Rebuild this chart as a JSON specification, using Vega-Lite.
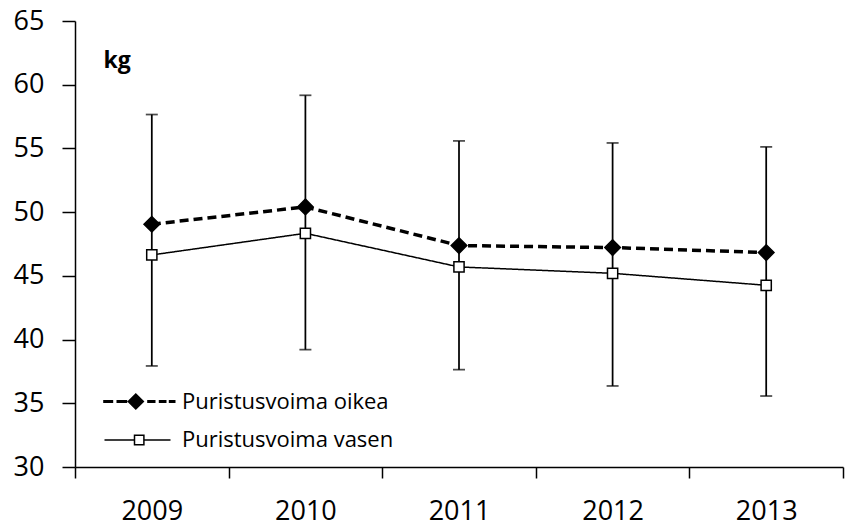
{
  "$schema": "https://vega.github.io/schema/vega-lite/v6.json",
  "width": 768,
  "height": 446,
  "autosize": {"type": "none"},
  "padding": {"left": 75, "top": 21, "right": 2, "bottom": 62},
  "config": {
    "view": {"stroke": null},
    "font": "Open Sans",
    "axis": {"grid": false, "domainColor": "black", "domainWidth": 1.5, "tickColor": "black", "tickWidth": 1.5, "labelColor": "black", "labelFont": "Open Sans"},
    "legend": {"labelFont": "Open Sans"}
  },
  "resolve": {
    "scale": {"shape": "independent", "fill": "independent", "strokeWidth": "independent"},
    "legend": {"shape": "independent", "fill": "independent", "strokeWidth": "independent"}
  },
  "datasets": {
    "means": [
      {"year": "2009", "series": "Puristusvoima oikea", "value": 49.05},
      {"year": "2010", "series": "Puristusvoima oikea", "value": 50.41},
      {"year": "2011", "series": "Puristusvoima oikea", "value": 47.38},
      {"year": "2012", "series": "Puristusvoima oikea", "value": 47.22},
      {"year": "2013", "series": "Puristusvoima oikea", "value": 46.83},
      {"year": "2009", "series": "Puristusvoima vasen", "value": 46.64},
      {"year": "2010", "series": "Puristusvoima vasen", "value": 48.34},
      {"year": "2011", "series": "Puristusvoima vasen", "value": 45.7},
      {"year": "2012", "series": "Puristusvoima vasen", "value": 45.2},
      {"year": "2013", "series": "Puristusvoima vasen", "value": 44.26}
    ],
    "errs": [
      {"year": "2009", "lo": 37.93, "hi": 57.66},
      {"year": "2010", "lo": 39.21, "hi": 59.17},
      {"year": "2011", "lo": 37.64, "hi": 55.59},
      {"year": "2012", "lo": 36.36, "hi": 55.43},
      {"year": "2013", "lo": 35.57, "hi": 55.12}
    ],
    "legendrows": []
  },
  "layer": [
    {
      "data": {"name": "errs"},
      "mark": {"type": "rule", "color": "black", "strokeWidth": 1.75},
      "encoding": {
        "x": {
          "field": "year", "type": "ordinal",
          "scale": {"type": "band", "paddingInner": 0, "paddingOuter": 0},
          "axis": {"title": null, "labelAngle": 0, "tickBand": "extent", "tickSize": 11, "labelPadding": 20, "labelFontSize": 27, "domainWidth": 1.5}
        },
        "y": {"field": "lo", "type": "quantitative", "scale": {"domain": [30, 65], "nice": false, "zero": false},
          "axis": {"values": [30, 35, 40, 45, 50, 55, 60, 65], "tickSize": 13, "labelPadding": 18, "labelFontSize": 27,
            "title": "kg", "titleAngle": 0, "titleAlign": "left", "titleBaseline": "alphabetic", "titleX": 28, "titleY": 46,
            "titleFontSize": 23, "titleFontWeight": "bold", "titleColor": "black", "titleFont": "Open Sans"}},
        "y2": {"field": "hi"}
      }
    },
    {
      "data": {"name": "errs"},
      "mark": {"type": "tick", "color": "black", "size": 12, "thickness": 1.75},
      "encoding": {"x": {"field": "year", "type": "ordinal"}, "y": {"field": "lo", "type": "quantitative"}}
    },
    {
      "data": {"name": "errs"},
      "mark": {"type": "tick", "color": "black", "size": 12, "thickness": 1.75},
      "encoding": {"x": {"field": "year", "type": "ordinal"}, "y": {"field": "hi", "type": "quantitative"}}
    },
    {
      "data": {"name": "means"},
      "mark": {"type": "line", "color": "black", "strokeCap": "butt"},
      "encoding": {
        "x": {"field": "year", "type": "ordinal"},
        "y": {"field": "value", "type": "quantitative"},
        "strokeDash": {"field": "series", "type": "nominal", "scale": {"range": [[9, 5], [1, 0]]}, "legend": null},
        "strokeWidth": {"field": "series", "type": "nominal", "scale": {"range": [3.5, 1.5]}, "legend": null}
      }
    },
    {
      "data": {"name": "means"},
      "mark": {"type": "point", "filled": true, "stroke": "black", "strokeWidth": 1.5, "size": 144, "opacity": 1},
      "encoding": {
        "x": {"field": "year", "type": "ordinal"},
        "y": {"field": "value", "type": "quantitative"},
        "fill": {"field": "series", "type": "nominal", "scale": {"range": ["black", "white"]}, "legend": null},
        "shape": {"field": "series", "type": "nominal", "scale": {"range": ["M-1.3,0L0,-1.3L1.3,0L0,1.3Z", "M-0.85,-0.85H0.85V0.85H-0.85Z"]}, "legend": null}
      }
    },
    {
      "data": {"name": "legendrows"},
      "mark": {"type": "point", "filled": true, "stroke": "black", "size": 400, "opacity": 1},
      "encoding": {
        "x": {"field": "year", "type": "ordinal"},
        "y": {"field": "value", "type": "quantitative"},
        "fill": {"field": "series", "type": "nominal",
          "scale": {"domain": ["Puristusvoima oikea", "Puristusvoima vasen"], "range": ["black", "white"]},
          "legend": {"title": null}},
        "strokeWidth": {"field": "series", "type": "nominal",
          "scale": {"domain": ["Puristusvoima oikea", "Puristusvoima vasen"], "range": [3, 1.5]},
          "legend": {"title": null}},
        "shape": {"field": "series", "type": "nominal",
          "scale": {"domain": ["Puristusvoima oikea", "Puristusvoima vasen"],
            "range": ["M-3.43,0H-2.43M-2.1,0H-1.03M-0.82,0L-0.17,-0.65L0.48,0L-0.17,0.65ZM0.97,0H1.8M2.13,0H2.9M3.13,0H3.8", "M-3.3,0H-0.3M0.64,0H3.3M-0.3,-0.47H0.64V0.47H-0.3Z"]},
          "legend": {
            "title": null, "orient": "none", "legendX": 51, "legendY": 369, "padding": 0,
            "symbolSize": 400, "labelOffset": 33, "labelFontSize": 22, "labelColor": "black", "labelLimit": 400, "rowPadding": 15
          }
        }
      }
    }
  ]
}
